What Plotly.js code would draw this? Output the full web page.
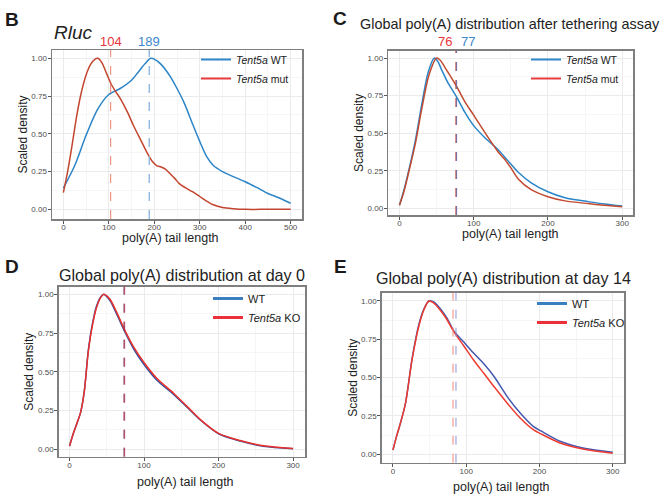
<!DOCTYPE html>
<html>
<head>
<meta charset="utf-8">
<script src="https://cdn.plot.ly/plotly-3.0.1.min.js"></script>
<style>html,body{margin:0;padding:0;background:#fff;}#chart{width:668px;height:503px;}</style>
</head>
<body>
<div id="chart"></div>
<script>
// ---------- DATA ----------
// Panel B (Rluc)
const bWtX  = [0,25,50,75,100,125,150,165,180,192,200,215,235,250,265,285,300,315,330,350,375,400,425,450,475,500];
const bWtY  = [0.14,0.29,0.49,0.66,0.76,0.80,0.855,0.91,0.965,1.0,0.995,0.96,0.88,0.80,0.71,0.56,0.45,0.35,0.29,0.25,0.215,0.183,0.145,0.105,0.075,0.04];
const bMutX = [0,10,20,30,40,50,60,70,76,85,95,105,115,125,140,155,170,185,195,205,215,225,235,245,255,270,285,300,315,330,350,375,400,450,500];
const bMutY = [0.11,0.26,0.44,0.63,0.78,0.89,0.96,0.995,1.0,0.97,0.90,0.83,0.78,0.735,0.65,0.55,0.46,0.37,0.32,0.29,0.28,0.265,0.235,0.205,0.17,0.14,0.115,0.085,0.055,0.03,0.012,0.004,0.0,0.0,0.0];
const bMedians = [104, 189]; // mut, WT

// Panel C (after tethering assay)
const cWtX  = [0,6,12,21,30,39,47,52,57,66,76,88,100,115,133,142,150,160,178,200,223,254,276,300];
const cWtY  = [0.02,0.12,0.24,0.44,0.69,0.91,1.0,0.975,0.92,0.83,0.75,0.64,0.55,0.47,0.39,0.34,0.295,0.24,0.168,0.11,0.07,0.044,0.029,0.015];
const cMutX = [0,6,12,21,30,40,50,55,61,76,88,100,115,133,142,150,160,178,200,223,254,276,300];
const cMutY = [0.02,0.11,0.23,0.42,0.66,0.89,1.0,0.985,0.94,0.82,0.71,0.62,0.505,0.375,0.325,0.27,0.195,0.122,0.077,0.049,0.031,0.02,0.01];
const cMedians = [76, 77]; // mut, WT

// Panel D (day 0)
const dX    = [0,5,10,15,20,25,30,36,42,46,50,55,64,74,86,99,117,140,158,176,200,229,260,300];
const dKoY  = [0.02,0.10,0.168,0.24,0.38,0.62,0.78,0.91,0.98,1.0,0.99,0.963,0.877,0.77,0.66,0.566,0.458,0.36,0.275,0.19,0.103,0.056,0.022,0.005];
const dWtY  = [0.02,0.10,0.168,0.24,0.38,0.63,0.79,0.92,0.985,1.0,0.985,0.955,0.865,0.76,0.648,0.553,0.447,0.352,0.27,0.187,0.10,0.053,0.02,0.004];
const dMedians = [74, 73]; // KO, WT

// Panel E (day 14)
const eX    = [0,5,10,17,26,35,42,49,55,60,67,74,83,97,110,124,138,156,174,192,202,229,261,300];
const eKoY  = [0.028,0.12,0.2,0.33,0.615,0.83,0.94,1.0,0.99,0.965,0.925,0.876,0.80,0.705,0.615,0.528,0.441,0.333,0.235,0.159,0.133,0.072,0.033,0.007];
const eWtY  = [0.028,0.12,0.2,0.33,0.62,0.84,0.945,1.0,0.995,0.975,0.935,0.887,0.805,0.73,0.66,0.59,0.507,0.376,0.267,0.18,0.152,0.083,0.039,0.013];
const eMedians = [82, 86]; // KO, WT

const yTicks = [0, 0.25, 0.5, 0.75, 1.0];
const yTickText = ["0.00","0.25","0.50","0.75","1.00"];
const xTitle = "poly(A) tail length";
const yTitle = "Scaled density";

// ---------- LAYOUT HELPERS ----------
const W = 668, H = 503;
const px = v => v / W;
const py = v => 1 - v / H;
const FONT = "Liberation Sans, Arial, sans-serif";

function axisX(domain, range, dtick, anchor) {
  return {
    domain: domain, range: range, anchor: anchor,
    dtick: dtick, tick0: 0,
    showgrid: true, gridcolor: "#ebebeb", gridwidth: 1,
    minor: {dtick: dtick/2, showgrid: true, gridcolor: "#f4f4f4", gridwidth: 0.8},
    zeroline: false, showline: true, mirror: true, linecolor: "#7f7f7f", linewidth: 1.5,
    ticks: "outside", ticklen: 3, tickcolor: "#555", tickwidth: 1,
    ticklabelstandoff: -3,
    tickfont: {family: FONT, size: 8, color: "#4d4d4d"},
    automargin: false
  };
}
function axisY(domain, range, anchor, standoff) {
  return {
    domain: domain, range: range, anchor: anchor,
    tickvals: yTicks, ticktext: yTickText,
    showgrid: true, gridcolor: "#ebebeb", gridwidth: 1,
    minor: {tickvals: [0.125, 0.375, 0.625, 0.875], showgrid: true, gridcolor: "#f4f4f4", gridwidth: 0.8},
    zeroline: false, showline: true, mirror: true, linecolor: "#7f7f7f", linewidth: 1.5,
    ticks: "outside", ticklen: 3, tickcolor: "#555", tickwidth: 1,
    ticklabelstandoff: -1,
    tickfont: {family: FONT, size: 8, color: "#4d4d4d"},
    title: {text: yTitle, font: {family: FONT, size: 12, color: "#222"}, standoff: standoff},
    automargin: false
  };
}

function curve(x, y, name, color, width, xa, ya, legend, showlegend) {
  return {x: x, y: y, type: "scatter", mode: "lines", name: name,
    line: {color: color, width: width, shape: "spline", smoothing: 0.8},
    xaxis: xa, yaxis: ya, legend: legend, showlegend: showlegend, hoverinfo: "skip"};
}
function legendKey(name, color, width, xa, ya, legend) {
  return {x: [null], y: [null], type: "scatter", mode: "lines", name: name,
    line: {color: color, width: width}, xaxis: xa, yaxis: ya, legend: legend, showlegend: true, hoverinfo: "skip"};
}

const WTb = "<i>Tent5a</i> WT", MUT = "<i>Tent5a</i> mut", KO = "<i>Tent5a</i> KO";

const traces = [
  curve(bWtX, bWtY, WTb, "#2c85c6", 1.5, "x", "y", "legend", false),
  curve(bMutX, bMutY, MUT, "#c4452f", 1.5, "x", "y", "legend", false),
  legendKey(WTb, "#2f86c8", 2, "x", "y", "legend"),
  legendKey(MUT, "#e83b3b", 2, "x", "y", "legend"),

  curve(cWtX, cWtY, WTb, "#2a86c8", 1.5, "x2", "y2", "legend2", false),
  curve(cMutX, cMutY, MUT, "#c24a30", 1.5, "x2", "y2", "legend2", false),
  legendKey(WTb, "#2f86c8", 2, "x2", "y2", "legend2"),
  legendKey(MUT, "#e83b3b", 2, "x2", "y2", "legend2"),

  curve(dX, dWtY, "WT", "#3350a0", 1.5, "x3", "y3", "legend3", false),
  curve(dX, dKoY, KO, "#ea302c", 1.5, "x3", "y3", "legend3", false),
  legendKey("WT", "#3a80c0", 3, "x3", "y3", "legend3"),
  legendKey(KO, "#ea303a", 3, "x3", "y3", "legend3"),

  curve(eX, eWtY, "WT", "#4458b0", 1.5, "x4", "y4", "legend4", false),
  curve(eX, eKoY, KO, "#ee3b30", 1.5, "x4", "y4", "legend4", false),
  legendKey("WT", "#3a80c0", 3, "x4", "y4", "legend4"),
  legendKey(KO, "#ea303a", 3, "x4", "y4", "legend4")
];

function vline(x, xref, yref, color, width) {
  return {type: "line", xref: xref, yref: yref + " domain", x0: x, x1: x, y0: 0, y1: 1,
    line: {color: color, width: width, dash: "dash"}, layer: "above"};
}
const shapes = [
  vline(bMedians[0], "x", "y", "#ef8a78", 1.1),
  vline(bMedians[1], "x", "y", "#8fb8e2", 1.4),
  vline(cMedians[0], "x2", "y2", "#c0504a", 1),
  vline(cMedians[1], "x2", "y2", "#6a6aa0", 1),
  vline(dMedians[0], "x3", "y3", "#b8304a", 0.9),
  vline(dMedians[1], "x3", "y3", "#8a3a5a", 0.9),
  vline(eMedians[0], "x4", "y4", "#f08878", 1),
  vline(eMedians[1], "x4", "y4", "#8a98d8", 1)
];

function textAt(text, x, y, size, opts) {
  return Object.assign({text: text, xref: "paper", yref: "paper", x: px(x), y: py(y),
    showarrow: false, xanchor: "center", yanchor: "middle",
    font: {family: FONT, size: size, color: "#222"}}, opts || {});
}

const annotations = [
  textAt("<b>B</b>", 12, 20, 19, {font: {family: FONT, size: 19, color: "#1a1a1a"}}),
  textAt("<b>C</b>", 340, 18, 19, {font: {family: FONT, size: 19, color: "#1a1a1a"}}),
  textAt("<b>D</b>", 12, 266, 19, {font: {family: FONT, size: 19, color: "#1a1a1a"}}),
  textAt("<b>E</b>", 340, 266, 19, {font: {family: FONT, size: 19, color: "#1a1a1a"}}),
  textAt("<i>Rluc</i>", 52, 32, 19, {xanchor: "left"}),
  {text: String(bMedians[0]), xref: "x", yref: "paper", x: bMedians[0], y: py(42), showarrow: false,
    xanchor: "center", yanchor: "middle", font: {family: FONT, size: 13, color: "#e8343a"}},
  {text: String(bMedians[1]), xref: "x", yref: "paper", x: bMedians[1], y: py(42), showarrow: false,
    xanchor: "center", yanchor: "middle", font: {family: FONT, size: 13, color: "#3b86c8"}},
  textAt("Global poly(A) distribution after tethering assay", 510, 24, 14.4),
  {text: String(cMedians[0]), xref: "x2", yref: "paper", x: cMedians[0], y: py(42), showarrow: false,
    xanchor: "right", yanchor: "middle", xshift: -2, font: {family: FONT, size: 13, color: "#e8343a"}},
  {text: String(cMedians[1]), xref: "x2", yref: "paper", x: cMedians[1], y: py(42), showarrow: false,
    xanchor: "left", yanchor: "middle", xshift: 2, font: {family: FONT, size: 13, color: "#3b86c8"}},
  textAt("Global poly(A) distribution at day 0", 182, 275, 16.1),
  textAt("Global poly(A) distribution at day 14", 503, 278, 16.1),
  // x-axis titles
  textAt(xTitle, 170, 237.5, 12.5),
  textAt(xTitle, 510, 234, 12.5),
  textAt(xTitle, 185, 482, 12.5),
  textAt(xTitle, 501, 486.5, 12.5)
];

function leg(x, y, size) {
  return {x: px(x), y: py(y), xanchor: "left", yanchor: "top", bgcolor: "rgba(0,0,0,0)",
    borderwidth: 0, font: {family: FONT, size: size, color: "#222"}, itemwidth: 30, tracegroupgap: 0};
}

const layout = {
  width: W, height: H, margin: {l: 0, r: 0, t: 0, b: 0}, autosize: false,
  paper_bgcolor: "#fff", plot_bgcolor: "#fff",
  font: {family: FONT},
  xaxis:  axisX([px(52), px(302)], [-25, 525], 100, "y"),
  yaxis:  axisY([py(219), py(50)], [-0.064, 1.055], "x", 1),
  xaxis2: axisX([px(388.3), px(633.3)], [-15, 315], 100, "y2"),
  yaxis2: axisY([py(215), py(50.7)], [-0.045, 1.049], "x2", 1),
  xaxis3: axisX([px(58.7), px(305)], [-14.5, 316], 100, "y3"),
  yaxis3: axisY([py(456.7), py(286.7)], [-0.048, 1.049], "x3", 2),
  xaxis4: axisX([px(381.7), px(624)], [-15.4, 315.4], 100, "y4"),
  yaxis4: axisY([py(462.7), py(292.7)], [-0.055, 1.054], "x4", 1),
  legend:  leg(196, 45, 10.5),
  legend2: leg(526, 45, 10.5),
  legend3: leg(208, 284, 11),
  legend4: leg(532, 289, 11),
  shapes: shapes,
  annotations: annotations,
  showlegend: true
};

Plotly.newPlot("chart", traces, layout, {staticPlot: true, displayModeBar: false});
</script>
</body>
</html>
